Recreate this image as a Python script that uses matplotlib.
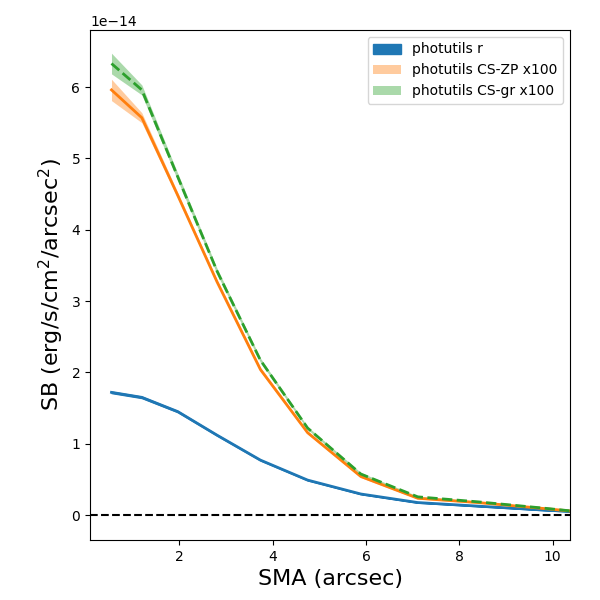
import matplotlib
matplotlib.use("Agg")
import matplotlib.pyplot as plt
import numpy as np

# semi-major axis (arcsec)
sma = np.array([0.55, 1.2, 1.97, 2.81, 3.74, 4.75, 5.89, 7.11, 8.4, 9.8, 10.4])

# surface brightness profiles, in units of 1e-14 erg/s/cm2/arcsec2
sb_r = np.array([1.72, 1.65, 1.45, 1.12, 0.77, 0.49, 0.295, 0.175, 0.125, 0.07, 0.05])
sb_zp = np.array([5.96, 5.57, 4.48, 3.27, 2.04, 1.155, 0.54, 0.235, 0.175, 0.092, 0.055])
sb_gr = np.array([6.33, 5.96, 4.74, 3.42, 2.17, 1.22, 0.575, 0.255, 0.185, 0.097, 0.057])

# errors (half-widths of the shaded bands)
err_r = np.array([0.01, 0.01, 0.008, 0.006, 0.005, 0.004, 0.003, 0.002, 0.002, 0.002, 0.002])
err_zp = np.array([0.15, 0.07, 0.04, 0.03, 0.03, 0.02, 0.015, 0.01, 0.01, 0.01, 0.01])
err_gr = np.array([0.145, 0.07, 0.05, 0.04, 0.03, 0.02, 0.02, 0.01, 0.01, 0.01, 0.01])

scale = 1e-14

fig, ax = plt.subplots(figsize=(6, 6), dpi=100)
fig.subplots_adjust(left=0.15, right=0.95, bottom=0.10, top=0.95)

ax.plot(sma, sb_r * scale, color="C0", lw=2)
h_r = ax.fill_between(sma, (sb_r - err_r) * scale, (sb_r + err_r) * scale,
                      color="C0", label="photutils r")

ax.plot(sma, sb_zp * scale, color="C1", lw=2)
h_zp = ax.fill_between(sma, (sb_zp - err_zp) * scale, (sb_zp + err_zp) * scale,
                       color="C1", alpha=0.4, lw=0, label="photutils CS-ZP x100")

ax.plot(sma, sb_gr * scale, color="C2", lw=2, ls="--")
h_gr = ax.fill_between(sma, (sb_gr - err_gr) * scale, (sb_gr + err_gr) * scale,
                       color="C2", alpha=0.4, lw=0, label="photutils CS-gr x100")

ax.axhline(0, color="k", ls="--", lw=1.5)

ax.set_xlim(0.09, 10.37)
ax.set_ylim(-0.35e-14, 6.8e-14)
ax.set_xlabel("SMA (arcsec)", fontsize=16)
ax.set_ylabel("SB (erg/s/cm$^2$/arcsec$^2$)", fontsize=16)
ax.legend(handles=[h_r, h_zp, h_gr], loc="upper right")

fig.savefig("out.png", dpi=100)
